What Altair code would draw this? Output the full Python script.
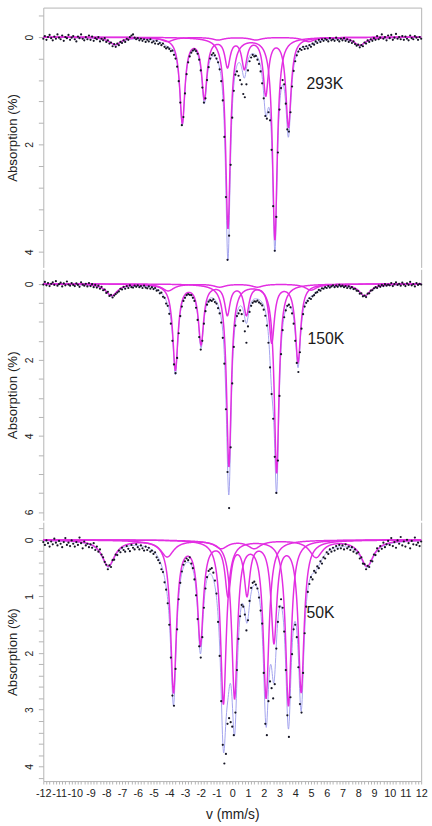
import numpy as np
import pandas as pd
import altair as alt

# ---------------- fitted sub-spectra ----------------
# 293 K
p1_sextet_pos = [-3.17, -1.77, -0.30, 0.77, 2.13, 3.57]
p1_sextet_depth = [1.58, 1.12, 0.52, 0.55, 1.05, 1.66]
p1_doublet_pos = [-0.27, 2.71]
p1_doublet_depth = [3.56, 3.77]
p1_broad_pos = [-7.43, -4.10, -0.90, 1.50, 4.85, 8.10]
p1_broad_depth = [0.14, 0.08, 0.05, 0.05, 0.08, 0.15]
# 150 K
p2_sextet_pos = [-3.61, -1.98, -0.31, 0.90, 2.51, 4.18]
p2_sextet_depth = [2.25, 1.56, 0.78, 0.78, 1.52, 2.04]
p2_doublet_pos = [-0.21, 2.82]
p2_doublet_depth = [4.80, 4.97]
p2_broad_pos = [-7.66, -4.07, -0.80, 1.60, 5.00, 8.41]
p2_broad_depth = [0.31, 0.18, 0.08, 0.08, 0.16, 0.31]
# 50 K
p3_sextet_pos = [-3.73, -2.02, -0.27, 0.94, 2.65, 4.38]
p3_sextet_depth = [2.67, 1.80, 0.93, 0.92, 1.77, 2.67]
p3_doublet1_pos = [-0.56, 3.57]
p3_doublet1_depth = [2.90, 2.93]
p3_doublet2_pos = [0.15, 2.15]
p3_doublet2_depth = [2.78, 2.77]
p3_broad_pos = [-7.87, -4.13, -0.70, 1.40, 5.32, 8.56]
p3_broad_depth = [0.46, 0.29, 0.14, 0.14, 0.30, 0.46]

# half widths of the fitted lines (mm/s)
p1_widths = [0.20, 0.18, 0.45]
p2_widths = [0.20, 0.18, 0.45]
p3_widths = [0.22, 0.22, 0.22, 0.50]

# ---------------- measured points (absorption %, v = -12 ... 12 mm/s, step 0.1) ----------------
p1_points = [
    0.03, -0.02, 0.05, 0.00, -0.04, 0.02, 0.06, -0.01, 0.03, -0.05,
    0.01, 0.04, -0.03, 0.07, 0.00, 0.02, -0.04, 0.05, 0.01, -0.02,
    0.04, 0.08, -0.01, 0.02, -0.05, 0.03, 0.06, 0.00, 0.04, -0.03,
    0.05, -0.01, 0.07, 0.02, 0.04, 0.00, 0.08, 0.03, 0.06, 0.02,
    0.09, 0.06, 0.12, 0.10, 0.17, 0.13, 0.18, 0.12, 0.15, 0.09,
    0.11, 0.06, 0.09, 0.03, 0.05, 0.00, -0.03, -0.05, 0.01, 0.04,
    0.02, 0.06, 0.03, 0.07, 0.04, 0.09, 0.05, 0.08, 0.04, 0.10,
    0.08, 0.12, 0.07, 0.13, 0.11, 0.15, 0.12, 0.18, 0.21, 0.19,
    0.22, 0.26, 0.25, 0.33, 0.40, 0.55, 0.82, 1.22, 1.64, 1.49,
    1.05, 0.69, 0.47, 0.36, 0.29, 0.25, 0.23, 0.26, 0.31, 0.42,
    0.62, 0.94, 1.22, 1.14, 0.80, 0.56, 0.40, 0.33, 0.30, 0.34,
    0.40, 0.47, 0.60, 0.82, 1.18, 1.86, 2.98, 4.15, 3.70, 2.38,
    1.50, 1.00, 0.70, 0.64, 0.72, 0.80, 0.88, 1.06, 1.12, 0.88,
    0.62, 0.45, 0.38, 0.33, 0.36, 0.35, 0.42, 0.50, 0.64, 0.86,
    1.14, 1.47, 1.52, 1.40, 1.55, 2.10, 3.15, 3.98, 3.35, 2.15,
    1.35, 0.95, 0.80, 0.88, 1.24, 1.72, 1.76, 1.40, 0.92, 0.63,
    0.45, 0.34, 0.27, 0.22, 0.24, 0.18, 0.22, 0.17, 0.21, 0.15,
    0.18, 0.12, 0.14, 0.08, 0.11, 0.05, 0.09, 0.04, 0.07, 0.03,
    0.05, 0.08, 0.02, 0.06, 0.04, 0.07, 0.01, 0.05, 0.08, 0.03,
    0.06, 0.02, 0.07, 0.04, 0.09, 0.06, 0.11, 0.08, 0.13, 0.16,
    0.14, 0.19, 0.15, 0.17, 0.10, 0.12, 0.06, 0.09, 0.04, 0.07,
    0.02, 0.05, -0.02, 0.04, 0.01, -0.05, 0.03, 0.00, 0.06, -0.03,
    0.02, -0.04, 0.05, 0.01, -0.06, 0.03, 0.00, 0.04, -0.02, 0.05,
    -0.01, 0.03, 0.06, -0.03, 0.02, 0.04, -0.02, 0.01, 0.05, 0.00,
    0.03,
]
p2_points = [
    0.02, -0.05, 0.04, -0.02, 0.06, 0.00, -0.04, 0.03, -0.07, 0.05,
    0.01, -0.03, 0.07, -0.01, 0.04, -0.06, 0.02, 0.05, -0.02, 0.03,
    0.06, -0.01, 0.03, 0.08, -0.04, 0.02, 0.05, 0.00, 0.07, -0.02,
    0.06, 0.01, 0.09, 0.03, 0.10, 0.05, 0.13, 0.08, 0.17, 0.15,
    0.24, 0.21, 0.32, 0.29, 0.36, 0.31, 0.27, 0.23, 0.20, 0.13,
    0.15, 0.08, 0.13, 0.06, 0.11, 0.04, 0.09, 0.10, 0.05, 0.08,
    0.04, 0.09, 0.06, 0.11, 0.05, 0.10, 0.12, 0.07, 0.13, 0.09,
    0.14, 0.11, 0.18, 0.17, 0.25, 0.23, 0.34, 0.37, 0.52, 0.58,
    0.79, 1.05, 1.50, 2.12, 2.35, 1.95, 1.30, 0.85, 0.60, 0.45,
    0.37, 0.30, 0.27, 0.29, 0.30, 0.37, 0.45, 0.63, 0.95, 1.40,
    1.73, 1.50, 1.05, 0.72, 0.55, 0.47, 0.43, 0.45, 0.41, 0.48,
    0.52, 0.64, 0.78, 1.02, 1.42, 2.10, 3.30, 4.95, 5.90, 4.30,
    2.62, 1.66, 1.10, 0.85, 0.78, 0.70, 0.80, 0.98, 1.25, 1.55,
    1.12, 0.74, 0.58, 0.50, 0.46, 0.47, 0.44, 0.49, 0.52, 0.57,
    0.68, 0.84, 1.10, 1.55, 2.20, 2.90, 3.55, 4.55, 5.50, 4.65,
    2.95, 1.85, 1.22, 0.88, 0.70, 0.58, 0.55, 0.62, 0.78, 1.05,
    1.50, 2.08, 2.32, 1.80, 1.18, 0.80, 0.60, 0.50, 0.45, 0.38,
    0.40, 0.33, 0.30, 0.24, 0.22, 0.16, 0.18, 0.12, 0.13, 0.09,
    0.11, 0.06, 0.10, 0.07, 0.04, 0.09, 0.05, 0.08, 0.03, 0.07,
    0.05, 0.09, 0.06, 0.11, 0.07, 0.12, 0.09, 0.14, 0.13, 0.18,
    0.19, 0.26, 0.25, 0.33, 0.31, 0.35, 0.26, 0.25, 0.18, 0.17,
    0.12, 0.09, 0.11, 0.05, 0.08, 0.03, 0.06, 0.01, 0.05, 0.02,
    0.04, -0.02, 0.06, 0.01, -0.04, 0.03, 0.00, 0.05, -0.03, 0.02,
    0.06, -0.01, 0.03, -0.05, 0.04, 0.01, 0.07, -0.02, 0.03, 0.00,
    0.02,
]
p3_points = [
    0.04, 0.09, 0.01, 0.06, 0.12, 0.03, 0.08, -0.02, 0.05, 0.10,
    0.02, 0.07, 0.13, 0.04, -0.03, 0.09, 0.05, 0.11, 0.01, 0.07,
    0.12, 0.04, 0.09, -0.04, 0.06, 0.15, 0.03, 0.10, 0.07, 0.13,
    0.08, 0.14, 0.06, 0.18, 0.12, 0.21, 0.17, 0.26, 0.31, 0.39,
    0.44, 0.52, 0.45, 0.48, 0.36, 0.35, 0.26, 0.27, 0.19, 0.22,
    0.14, 0.18, 0.21, 0.11, 0.16, 0.20, 0.09, 0.14, 0.17, 0.08,
    0.13, 0.17, 0.10, 0.15, 0.19, 0.12, 0.18, 0.14, 0.21, 0.19,
    0.25, 0.22, 0.31, 0.36, 0.41, 0.52, 0.57, 0.75, 0.88, 1.12,
    1.50, 2.08, 2.75, 2.93, 2.28, 1.58, 1.05, 0.76, 0.56, 0.44,
    0.38, 0.33, 0.36, 0.31, 0.42, 0.50, 0.70, 0.98, 1.40, 1.88,
    2.08, 1.72, 1.20, 0.86, 0.66, 0.55, 0.52, 0.50, 0.58, 0.72,
    0.95, 1.45, 2.05, 2.85, 3.62, 3.95, 3.78, 3.25, 3.15, 3.22,
    3.30, 3.45, 3.05, 2.30, 1.75, 1.35, 1.15, 1.18, 1.32, 1.60,
    1.42, 1.08, 0.85, 0.76, 0.74, 0.79, 0.86, 1.02, 1.25, 1.48,
    2.35, 3.25, 3.45, 2.85, 2.50, 2.62, 2.80, 2.55, 1.92, 1.45,
    1.18, 1.05, 1.20, 1.62, 2.30, 3.10, 3.48, 2.78, 2.02, 1.58,
    1.50, 1.72, 2.25, 2.90, 3.05, 2.35, 1.65, 1.18, 0.92, 0.78,
    0.66, 0.70, 0.55, 0.58, 0.47, 0.50, 0.38, 0.42, 0.31, 0.33,
    0.22, 0.25, 0.17, 0.21, 0.14, 0.19, 0.11, 0.16, 0.09, 0.15,
    0.10, 0.17, 0.08, 0.15, 0.12, 0.18, 0.13, 0.21, 0.17, 0.24,
    0.22, 0.33, 0.31, 0.42, 0.43, 0.52, 0.46, 0.48, 0.37, 0.38,
    0.26, 0.27, 0.15, 0.20, 0.11, 0.16, 0.05, 0.13, 0.08, 0.02,
    0.09, -0.03, 0.11, 0.04, 0.14, 0.01, 0.07, -0.05, 0.10, 0.03,
    0.12, 0.00, 0.06, 0.15, 0.02, 0.08, -0.04, 0.09, 0.05, 0.11,
    0.03,
]
channel_v = [round(k / 10, 1) for k in range(-120, 121)]

labels = ["293K", "150K", "50K"]

MAGENTA = "#e22ee2"
BLUE = "#a3a3ee"
AXIS = "#b4b4b4"
TXT = "#222222"
FONT = "Liberation Sans"

v_fine = np.round(np.linspace(-12, 12, 1201), 3)


def lorentz(v, pos, depth, hw):
    out = np.zeros_like(v, dtype=float)
    for p, d in zip(pos, depth):
        out += d * hw ** 2 / (hw ** 2 + (v - p) ** 2)
    return out


panels = [
    dict(comps=[(p1_sextet_pos, p1_sextet_depth, p1_widths[0]),
                (p1_doublet_pos, p1_doublet_depth, p1_widths[1]),
                (p1_broad_pos, p1_broad_depth, p1_widths[2])],
         pts=p1_points, ydom=[-0.55, 4.29], height=264, tstep=0.4, lstep=2,
         lab=labels[0], lab_v=4.72, lab_a=0.88),
    dict(comps=[(p2_sextet_pos, p2_sextet_depth, p2_widths[0]),
                (p2_doublet_pos, p2_doublet_depth, p2_widths[1]),
                (p2_broad_pos, p2_broad_depth, p2_widths[2])],
         pts=p2_points, ydom=[-0.38, 6.22], height=255, tstep=0.5, lstep=2,
         lab=labels[1], lab_v=4.78, lab_a=1.46),
    dict(comps=[(p3_sextet_pos, p3_sextet_depth, p3_widths[0]),
                (p3_doublet1_pos, p3_doublet1_depth, p3_widths[1]),
                (p3_doublet2_pos, p3_doublet2_depth, p3_widths[2]),
                (p3_broad_pos, p3_broad_depth, p3_widths[3])],
         pts=p3_points, ydom=[-0.31, 4.26], height=263, tstep=0.2, lstep=1,
         lab=labels[2], lab_v=4.72, lab_a=1.29),
]

x_ticks = [round(k / 5, 1) for k in range(-60, 61)]
xscale = alt.Scale(domain=[-12, 12], nice=False, zero=False)


def make_panel(i, cfg):
    rows = []
    total = np.zeros_like(v_fine)
    for k, (pos, depth, hw) in enumerate(cfg["comps"]):
        a = lorentz(v_fine, pos, depth, hw)
        total = total + a
        rows.append(pd.DataFrame({"v": v_fine, "a": a, "comp": f"c{k}"}))
    comp_df = pd.concat(rows, ignore_index=True)
    total_df = pd.DataFrame({"v": v_fine, "a": total})
    pts_df = pd.DataFrame({"v": channel_v, "a": cfg["pts"]})

    yscale = alt.Scale(domain=cfg["ydom"], reverse=True, nice=False, zero=False)
    st = cfg["tstep"]
    k0 = int(np.ceil(cfg["ydom"][0] / st - 1e-9))
    k1 = int(np.floor(cfg["ydom"][1] / st + 1e-9))
    yt = [round(k * st, 2) for k in range(k0, k1 + 1)]
    ls = cfg["lstep"]
    yaxis = alt.Axis(values=yt,
                     labelExpr=f"abs(datum.value - {ls}*round(datum.value/{ls})) < 0.01 ? round(datum.value) : ''",
                     labelAngle=270, labelAlign="center", labelBaseline="bottom",
                     labelPadding=4, tickSize=5, tickColor=AXIS, domainColor=AXIS,
                     labelColor=TXT, labelFontSize=10.5, labelFont=FONT,
                     title="Absorption (%)", titleFontSize=13.5, titleFontWeight="normal",
                     titleColor=TXT, titleFont=FONT, titlePadding=5, grid=False,
                     labelOverlap=False)
    if i == 2:
        xaxis = alt.Axis(values=x_ticks,
                         labelExpr="abs(datum.value - round(datum.value)) < 0.01 ? round(datum.value) : ''",
                         tickSize=3, tickColor=AXIS, domainColor=AXIS, labelColor=TXT,
                         labelFontSize=11, labelFont=FONT, labelFlush=False, labelOverlap=False,
                         labelPadding=4, title="v (mm/s)", titleFontSize=14,
                         titleFontWeight="normal", titleColor=TXT, titleFont=FONT,
                         titlePadding=9, grid=False)
    else:
        xaxis = None

    total_layer = alt.Chart(total_df).mark_line(color=BLUE, strokeWidth=1).encode(
        x=alt.X("v:Q", scale=xscale, axis=xaxis),
        y=alt.Y("a:Q", scale=yscale, axis=yaxis),
    )
    comp_layer = alt.Chart(comp_df).mark_line(color=MAGENTA, strokeWidth=1.5).encode(
        x=alt.X("v:Q", scale=xscale, axis=None),
        y=alt.Y("a:Q", scale=yscale, axis=None),
        detail="comp:N",
    )
    top_axis = alt.Axis(orient="top", labels=False, ticks=False, title=None,
                        domainColor=AXIS, grid=False) if i == 0 else None
    right_axis = alt.Axis(orient="right", labels=False, ticks=False, title=None,
                          domainColor=AXIS, grid=False)
    pts_layer = alt.Chart(pts_df).mark_circle(size=5, color="#151525", opacity=1).encode(
        x=alt.X("v:Q", scale=xscale, axis=top_axis),
        y=alt.Y("a:Q", scale=yscale, axis=right_axis),
    )
    lab_df = pd.DataFrame({"v": [cfg["lab_v"]], "a": [cfg["lab_a"]], "t": [cfg["lab"]]})
    text_layer = alt.Chart(lab_df).mark_text(align="left", baseline="middle", fontSize=16,
                                             font=FONT, color="#1a1a1a").encode(
        x=alt.X("v:Q", scale=xscale, axis=None),
        y=alt.Y("a:Q", scale=yscale, axis=None),
        text="t:N",
    )
    return alt.layer(total_layer, comp_layer, pts_layer, text_layer).resolve_axis(
        x="independent", y="independent").properties(width=384, height=cfg["height"])


chart = alt.vconcat(*[make_panel(i, c) for i, c in enumerate(panels)], spacing=0).properties(
    padding={"left": 5, "top": 0, "right": 4, "bottom": 0}
).configure_view(stroke="transparent")

chart.save("out.html", embed_options={"renderer": "svg", "actions": False})
